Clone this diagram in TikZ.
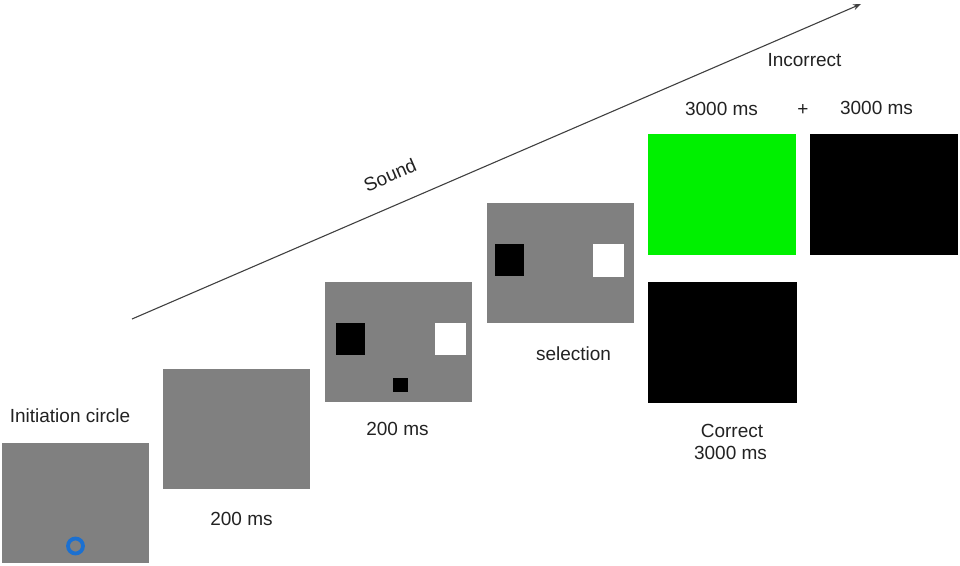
\documentclass[tikz,border=0pt]{standalone}
\usepackage{fontspec}
\setmainfont{Liberation Sans}
\usetikzlibrary{arrows.meta}
\definecolor{scrgray}{HTML}{808080}
\definecolor{txt}{HTML}{222222}
\definecolor{ringblue}{HTML}{1C70D0}
\definecolor{flashgreen}{HTML}{00F000}
\tikzset{
  screen/.style={draw=none, fill=scrgray, inner sep=0pt, minimum width=147pt, minimum height=120pt},
  blackscreen/.style={screen, fill=black},
  greenscreen/.style={screen, fill=flashgreen},
  sq/.style={draw=none, inner sep=0pt},
  lbl/.style={text=txt, font=\fontsize{19}{22}\selectfont, inner sep=0pt, anchor=base},
}
\begin{document}
\begin{tikzpicture}[x=1pt,y=-1pt]
\useasboundingbox (0,0) rectangle (960,565);
% screens
\node[screen] (s1) at (75,503) {};
\node[screen] (s2) at (236.5,428.5) {};
\node[screen] (s3) at (398.5,342) {};
\node[screen] (s4) at (560.5,263) {};
\node[greenscreen, minimum width=148pt, minimum height=121pt] (s5) at (722,194.5) {};
\node[blackscreen, minimum width=148pt, minimum height=121pt] (s6) at (884,194.5) {};
\node[blackscreen, minimum width=149pt, minimum height=121pt] (s7) at (722.5,342.5) {};
% initiation ring
\node[draw=ringblue, line width=3.8pt, circle, minimum size=15pt, inner sep=0pt] (ring) at (75.5,546) {};
% squares in screen 3
\node[sq, fill=black, minimum width=29pt, minimum height=32pt] (b3) at (350.5,339) {};
\node[sq, fill=white, minimum width=31pt, minimum height=32pt] (w3) at (450.5,339) {};
\node[sq, fill=black, minimum width=15pt, minimum height=14pt] (c3) at (400.5,385) {};
% squares in screen 4
\node[sq, fill=black, minimum width=29pt, minimum height=32pt] (b4) at (509.5,260) {};
\node[sq, fill=white, minimum width=31pt, minimum height=33pt] (w4) at (608.5,260.5) {};
% timeline arrow
\coordinate (a0) at (132,319);
\coordinate (a1) at (861,4);
\draw[line width=1.1pt, draw=black!75, -{Stealth[length=8pt,width=6pt]}] (a0) -- (a1);
\node[text=txt, font=\fontsize{19}{22}\selectfont, rotate=23.4, inner sep=0pt] (sound) at (390,175) {Sound};
% labels
\node[lbl] (l1) at (70,422) {Initiation circle};
\node[lbl] (l2) at (241.5,525) {200 ms};
\node[lbl] (l3) at (397.5,435) {200 ms};
\node[lbl] (l4) at (573.5,360) {selection};
\node[lbl] (l5) at (804.5,66.5) {Incorrect};
\node[lbl] (l6) at (721.5,115.5) {3000 ms};
\node[lbl] (l7) at (803,115.5) {+};
\node[lbl] (l8) at (876.5,114.5) {3000 ms};
\node[lbl] (l9) at (732,437) {Correct};
\node[lbl] (l10) at (730.5,459) {3000 ms};
\end{tikzpicture}
\end{document}
